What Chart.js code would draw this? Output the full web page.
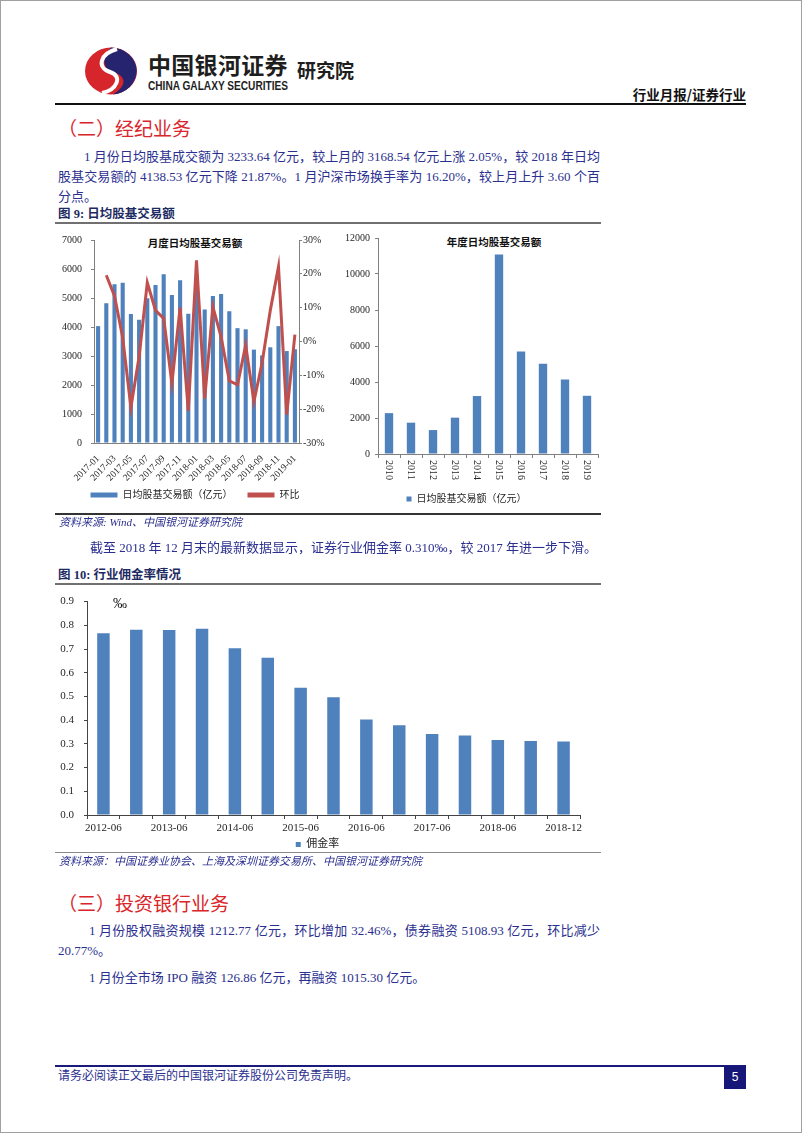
<!DOCTYPE html>
<html>
<head>
<meta charset="utf-8">
<script src="https://cdn.jsdelivr.net/npm/chart.js@4.4.1/dist/chart.umd.min.js"></script>
<style>
html, body { margin: 0; padding: 0; background: #fff; }
#page { position: relative; width: 802px; height: 1133px; overflow: hidden; font-family: "Liberation Serif", "Noto Sans CJK SC", serif; }
.frame { position: absolute; left: 0; top: 0; width: 800px; height: 1131px; border: 1px solid #a0a0a0; }
.t { position: absolute; white-space: nowrap; line-height: 1; }
.p { position: absolute; height: 20px; line-height: 20px; font-size: 13px; color: #2b2f8f; white-space: nowrap; }
.j { text-align: justify; text-align-last: justify; }
.h2 { position: absolute; left: 58px; font-size: 19px; line-height: 1; color: #d9262b; font-family: "Noto Sans CJK SC", sans-serif; white-space: nowrap; }
.cap { position: absolute; left: 58px; font-size: 12.5px; line-height: 1; font-weight: bold; color: #1d2a62; font-family: "Liberation Serif", "Noto Sans CJK SC", serif; white-space: nowrap; }
.src { position: absolute; left: 59px; font-size: 11px; line-height: 1; font-style: italic; color: #2b2f8f; white-space: nowrap; }
.rule { position: absolute; left: 55px; width: 546px; }
.ctitle { position: absolute; font-size: 10.5px; font-weight: bold; color: #111; line-height: 1; transform: translate(-50%, -50%); font-family: "Noto Sans CJK SC", sans-serif; white-space: nowrap; }
canvas { position: absolute; }
</style>
</head>
<body>
<div id="page">
  <div class="frame"></div>

  <!-- header -->
  <svg width="56" height="50" viewBox="0 0 56 50" style="position:absolute;left:83px;top:46px">
    <ellipse cx="28" cy="25" rx="26" ry="23.5" fill="#d7262b"/>
    <path d="M28 1.5 A26 23.5 0 0 1 30 48.4 C44 40 44 30 30 26 C18 22 20 10 28 1.5 Z" fill="#26246f"/>
    <path d="M34 3 C16 8 14 22 27 26 C40 30 34 44 19 47" stroke="#fff" stroke-width="4" fill="none"/>
  </svg>
  <div class="t" style="left:148px;top:53px;font-size:23px;font-weight:bold;letter-spacing:0.3px;color:#1e1e1e;font-family:'Noto Sans CJK SC',sans-serif">中国银河证券</div>
  <svg width="150" height="16" style="position:absolute;left:148px;top:78px">
    <text x="0" y="12" textLength="140" lengthAdjust="spacingAndGlyphs" font-family="Liberation Sans, sans-serif" font-weight="bold" font-size="12" fill="#1e1e1e">CHINA GALAXY SECURITIES</text>
  </svg>
  <div class="t" style="left:297px;top:60px;font-size:19px;font-weight:bold;color:#1e1e1e;font-family:'Noto Sans CJK SC',sans-serif">研究院</div>
  <div class="t" style="right:56px;top:88px;font-size:13.5px;font-weight:bold;color:#111;font-family:'Noto Sans CJK SC',sans-serif">行业月报/证券行业</div>
  <div style="position:absolute;left:55px;top:103px;width:691px;height:2px;background:#111"></div>

  <!-- section 2 -->
  <div class="h2" style="top:118px">（二）经纪业务</div>
  <div class="p j" style="left:84px;width:516px;top:147px">1 月份日均股基成交额为 3233.64 亿元，较上月的 3168.54 亿元上涨 2.05%，较 2018 年日均</div>
  <div class="p j" style="left:58px;width:542px;top:167px">股基交易额的 4138.53 亿元下降 21.87%。1 月沪深市场换手率为 16.20%，较上月上升 3.60 个百</div>
  <div class="p" style="left:58px;top:187px">分点。</div>

  <div class="cap" style="top:208px">图 9: 日均股基交易额</div>
  <div class="rule" style="top:222px;height:1.5px;background:#707070"></div>

  <div class="ctitle" style="left:195px;top:243px">月度日均股基交易额</div>
  <div class="ctitle" style="left:494px;top:242px">年度日均股基交易额</div>
  <canvas id="monthly" width="280" height="285" style="left:55px;top:225px"></canvas>
  <canvas id="yearly" width="265" height="289" style="left:335px;top:225px"></canvas>

  <div class="rule" style="top:513px;height:1.5px;background:#333"></div>
  <div class="src" style="top:517px">资料来源: Wind、中国银河证券研究院</div>

  <div class="p j" style="left:90px;width:505px;top:538px">截至 2018 年 12 月末的最新数据显示，证券行业佣金率 0.310‰，较 2017 年进一步下滑。</div>

  <div class="cap" style="top:569px">图 10: 行业佣金率情况</div>
  <div class="rule" style="top:583px;height:1.5px;background:#707070"></div>

  <canvas id="commission" width="546" height="275" style="left:55px;top:585px"></canvas>
  <div class="t" style="left:113px;top:597px;font-size:14px;color:#111">‰</div>

  <div class="rule" style="top:852px;height:1px;background:#8a8a8a"></div>
  <div class="src" style="top:856px">资料来源：中国证券业协会、上海及深圳证券交易所、中国银河证券研究院</div>

  <!-- section 3 -->
  <div class="h2" style="top:893px">（三）投资银行业务</div>
  <div class="p j" style="left:89px;width:511px;top:921px">1 月份股权融资规模 1212.77 亿元，环比增加 32.46%，债券融资 5108.93 亿元，环比减少</div>
  <div class="p" style="left:58px;top:941px">20.77%。</div>
  <div class="p" style="left:89px;top:968px">1 月份全市场 IPO 融资 126.86 亿元，再融资 1015.30 亿元。</div>

  <!-- footer -->
  <div style="position:absolute;left:55px;top:1065px;width:691px;height:2px;background:#1a1a7a"></div>
  <div class="t" style="left:58px;top:1070px;font-size:12px;color:#2b2f8f">请务必阅读正文最后的中国银河证券股份公司免责声明。</div>
  <div style="position:absolute;left:724px;top:1066px;width:22px;height:23px;background:#17177a;color:#fff;font:12px 'Liberation Sans',sans-serif;line-height:23px;text-align:center">5</div>
</div>

<script>
// monthly average daily stock+fund turnover (100m yuan) and month-on-month change (%)
const months = ['2017-01', '2017-02', '2017-03', '2017-04', '2017-05', '2017-06', '2017-07', '2017-08', '2017-09', '2017-10', '2017-11', '2017-12',
                '2018-01', '2018-02', '2018-03', '2018-04', '2018-05', '2018-06', '2018-07', '2018-08', '2018-09', '2018-10', '2018-11', '2018-12',
                '2019-01'];
const monthlyTurnover = [4030, 4820, 5470, 5530, 4450, 4250, 4990, 5450, 5820, 5100, 5610, 4460,
                         5530, 4600, 5070, 5140, 4540, 3960, 3920, 3220, 3020, 3300, 4030, 3170,
                         3234];
const monthlyChange = [null, 19.6, 13.5, 1.1, -19.5, -4.5, 17.4, 9.2, 6.8, -12.4, 10.0, -20.5,
                       24.0, -16.9, 10.2, 1.4, -11.6, -12.8, -1.1, -17.8, -6.3, 9.2, 22.1, -21.6,
                       2.05];

// yearly average daily turnover
const years = ['2010', '2011', '2012', '2013', '2014', '2015', '2016', '2017', '2018', '2019'];
const yearlyTurnover = [2270, 1740, 1330, 2020, 3220, 11090, 5690, 5020, 4139, 3234];

// industry commission rate (permille)
const periods = ['2012-06', '2012-12', '2013-06', '2013-12', '2014-06', '2014-12', '2015-06', '2015-12',
                 '2016-06', '2016-12', '2017-06', '2017-12', '2018-06', '2018-09', '2018-12'];
const commissionRate = [0.766, 0.781, 0.780, 0.785, 0.703, 0.663, 0.537, 0.497,
                        0.403, 0.379, 0.342, 0.335, 0.316, 0.312, 0.310];

const BLUE = '#4f81bd';
const RED = '#c0504d';
const AXIS = '#808080';
const TXT = '#262626';
const FONT = '"Liberation Serif", "Noto Sans CJK SC", serif';

Chart.defaults.font.family = FONT;
Chart.defaults.color = TXT;
Chart.defaults.animation = false;

const fixWidth = w => s => { s.width = w; };
const fixHeight = h => s => { s.height = h; };
const plain = v => String(v);

// legend boxes without outline; a wider gap after all but the last item
const spacedBoxes = chart => {
    const items = Chart.defaults.plugins.legend.labels.generateLabels(chart)
        .sort((a, b) => a.datasetIndex - b.datasetIndex);
    return items.map((it, i) => Object.assign(it, {
        lineWidth: 0,
        text: i < items.length - 1 ? it.text + '\u3000\u2002' : it.text
    }));
};

// monthly chart: bars + ratio line
new Chart(document.getElementById('monthly'), {
    type: 'bar',
    data: {
        labels: months,
        datasets: [{
            type: 'bar',
            label: '日均股基交易额（亿元）',
            data: monthlyTurnover,
            backgroundColor: BLUE,
            barPercentage: 0.5,
            categoryPercentage: 1,
            yAxisID: 'y',
            order: 1
        }, {
            type: 'line',
            label: '环比',
            data: monthlyChange,
            borderColor: RED,
            backgroundColor: RED,
            borderWidth: 3,
            pointRadius: 0,
            tension: 0,
            yAxisID: 'y1',
            order: 0
        }]
    },
    options: {
        responsive: false,
        devicePixelRatio: 1,
        layout: { padding: { top: 13, left: 0, right: 0, bottom: 0 } },
        plugins: {
            tooltip: { enabled: false },
            legend: {
                position: 'bottom',
                labels: {
                    boxWidth: 27, boxHeight: 5, padding: 5,
                    font: { size: 10 },
                    generateLabels: spacedBoxes
                }
            }
        },
        scales: {
            x: {
                grid: { display: false },
                border: { color: AXIS },
                ticks: {
                    autoSkip: false, minRotation: 45, maxRotation: 45, padding: 2,
                    font: { size: 9.5 },
                    callback: (v, i) => (i % 2 === 0 ? months[i] : '')
                },
                afterFit: fixHeight(42)
            },
            y: {
                position: 'left', min: 0, max: 7000,
                ticks: { stepSize: 1000, padding: 9, font: { size: 10 }, callback: plain },
                grid: { drawOnChartArea: false, tickLength: 3, color: AXIS },
                border: { color: AXIS },
                afterFit: fixWidth(39)
            },
            y1: {
                position: 'right', min: -30, max: 30,
                ticks: { stepSize: 10, padding: 1, font: { size: 10 }, callback: v => v + '%' },
                grid: { drawOnChartArea: false, tickLength: 3, color: AXIS },
                border: { color: AXIS },
                afterFit: fixWidth(36)
            }
        }
    }
});

// year labels on the yearly chart read top to bottom
const verticalYearLabels = {
    id: 'verticalYearLabels',
    afterDraw(chart) {
        const sc = chart.scales.x;
        const ctx = chart.ctx;
        ctx.save();
        ctx.font = '10px ' + FONT;
        ctx.fillStyle = TXT;
        ctx.textAlign = 'left';
        ctx.textBaseline = 'middle';
        years.forEach((yr, i) => {
            ctx.save();
            ctx.translate(sc.getPixelForTick(i), sc.top + 6);
            ctx.rotate(Math.PI / 2);
            ctx.fillText(yr, 0, 0);
            ctx.restore();
        });
        ctx.restore();
    }
};

new Chart(document.getElementById('yearly'), {
    type: 'bar',
    data: {
        labels: years,
        datasets: [{
            label: '日均股基交易额（亿元）',
            data: yearlyTurnover,
            backgroundColor: BLUE,
            barPercentage: 0.38,
            categoryPercentage: 1
        }]
    },
    plugins: [verticalYearLabels],
    options: {
        responsive: false,
        devicePixelRatio: 1,
        layout: { padding: { top: 13, left: 0, right: 2, bottom: 0 } },
        plugins: {
            tooltip: { enabled: false },
            legend: {
                position: 'bottom',
                labels: { boxWidth: 5, boxHeight: 5, padding: 10, font: { size: 10 } }
            }
        },
        scales: {
            x: {
                grid: { drawOnChartArea: false, tickLength: 4, color: AXIS },
                border: { color: AXIS },
                ticks: { display: false },
                afterFit: fixHeight(30)
            },
            y: {
                min: 0, max: 12000,
                ticks: { stepSize: 2000, padding: 5, font: { size: 10 }, callback: plain },
                grid: { drawOnChartArea: false, tickLength: 3, color: AXIS },
                border: { color: AXIS },
                afterFit: fixWidth(43)
            }
        }
    }
});

// commission rate chart
new Chart(document.getElementById('commission'), {
    type: 'bar',
    data: {
        labels: periods,
        datasets: [{
            label: '佣金率',
            data: commissionRate,
            backgroundColor: BLUE,
            barPercentage: 0.38,
            categoryPercentage: 1
        }]
    },
    options: {
        responsive: false,
        devicePixelRatio: 1,
        layout: { padding: { top: 12.7, left: 0, right: 21, bottom: 0 } },
        plugins: {
            tooltip: { enabled: false },
            legend: {
                position: 'bottom',
                labels: { boxWidth: 5, boxHeight: 5, padding: 5, font: { size: 11 } }
            }
        },
        scales: {
            x: {
                grid: { drawOnChartArea: false, tickLength: 4, color: '#444' },
                border: { color: '#444' },
                ticks: {
                    autoSkip: false, maxRotation: 0, padding: 3,
                    font: { size: 11 },
                    callback: (v, i) => (i % 2 === 0 ? periods[i] : '')
                },
                afterFit: fixHeight(19)
            },
            y: {
                min: 0, max: 0.9,
                ticks: { stepSize: 0.1, padding: 10, font: { size: 11 }, callback: v => v.toFixed(1) },
                grid: { drawOnChartArea: false, tickLength: 3, color: '#444' },
                border: { color: '#444' },
                afterFit: fixWidth(32)
            }
        }
    }
});
</script>
</body>
</html>
